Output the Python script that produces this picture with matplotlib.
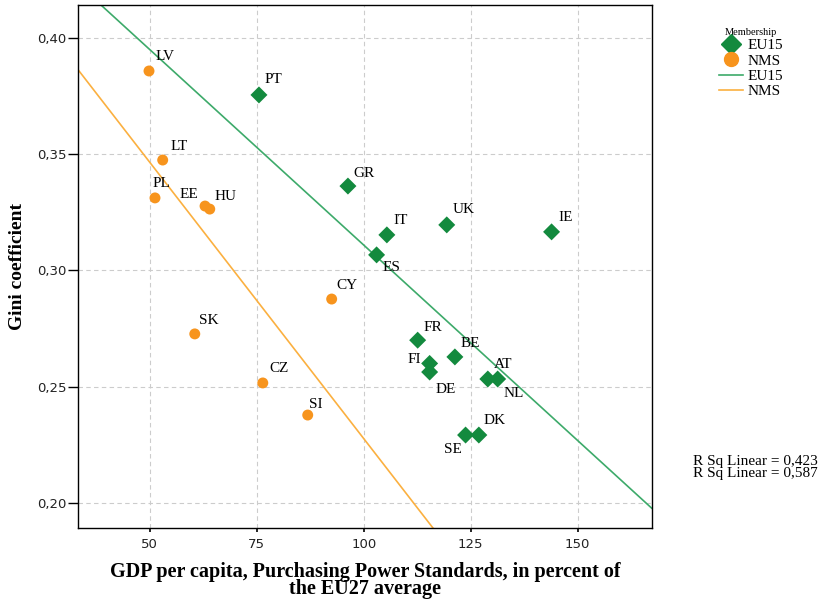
import numpy as np
import matplotlib.pyplot as plt
from matplotlib.lines import Line2D

# EU15 countries: GDP per capita (PPS, EU27 = 100) and Gini
eu15_names = ["PT", "GR", "IT", "UK", "IE", "ES", "FR", "BE", "FI", "DE", "AT", "NL", "DK", "SE"]
eu15_gdp = [75.5, 96.3, 105.4, 119.4, 143.9, 103.0, 112.6, 121.3, 115.4, 115.4, 129.0, 131.3, 126.9, 123.8]
eu15_gini = [0.3755, 0.3363, 0.3153, 0.3196, 0.3166, 0.3067, 0.2700, 0.2628, 0.2600, 0.2563, 0.2533, 0.2533, 0.2292, 0.2292]

# new member states
nms_names = ["LV", "LT", "PL", "EE", "HU", "CY", "SK", "CZ", "SI"]
nms_gdp = [49.8, 53.0, 51.2, 62.9, 64.0, 92.5, 60.5, 76.4, 86.9]
nms_gini = [0.3858, 0.3475, 0.3312, 0.3277, 0.3264, 0.2877, 0.2727, 0.2516, 0.2378]

r2_labels = ["R Sq Linear = 0,423", "R Sq Linear = 0,587"]

# label offsets in pixels (dx, dy)
eu15_off = [(14, 15), (16, 13), (14, 14), (17, 15), (14, 14), (15, -13), (15, 13), (15, 13),
            (-15, 4), (16, -17), (15, 15), (16, -14), (16, 15), (-13, -14)]
nms_off = [(16, 14), (16, 14), (6, 14), (-16, 12), (16, 13), (15, 14), (14, 13), (16, 14), (8, 11)]

GREEN = "#138a3e"
ORANGE = "#f7941d"
GREEN_LINE = "#3daa6a"
ORANGE_LINE = "#fbb040"

plt.rcParams['font.family'] = ['Liberation Serif', 'DejaVu Serif']

fig = plt.figure(figsize=(8.27, 5.99), dpi=100)
ax = fig.add_axes([0.0943, 0.1185, 0.6937, 0.8732])

xlim = (33.2, 167.3)
ax.set_xlim(*xlim)
ax.set_ylim(0.1892, 0.4142)

# fit lines
xs = np.array(xlim)
p_eu = np.polyfit(eu15_gdp, eu15_gini, 1)
p_nms = np.polyfit(nms_gdp, nms_gini, 1)
ax.plot(xs, np.polyval(p_eu, xs), color=GREEN_LINE, lw=1.2, zorder=2)
ax.plot(xs, np.polyval(p_nms, xs), color=ORANGE_LINE, lw=1.2, zorder=2)

ax.scatter(eu15_gdp, eu15_gini, marker="D", s=75, color=GREEN, edgecolors="none", zorder=3)
ax.scatter(nms_gdp, nms_gini, marker="o", s=62, color=ORANGE, edgecolors="none", zorder=3)

for names, xv, yv, offs in [(eu15_names, eu15_gdp, eu15_gini, eu15_off),
                            (nms_names, nms_gdp, nms_gini, nms_off)]:
    for n, x, y, o in zip(names, xv, yv, offs):
        ax.annotate(n, (x, y), xytext=o, textcoords="offset pixels",
                    ha="center", va="center", fontsize=11)

ax.set_xticks([50, 75, 100, 125, 150])
ax.set_yticks([0.20, 0.25, 0.30, 0.35, 0.40])
ax.set_yticklabels(["0,20", "0,25", "0,30", "0,35", "0,40"])
for lab in ax.get_xticklabels() + ax.get_yticklabels():
    lab.set_family("DejaVu Sans")
    lab.set_fontsize(9.5)
    lab.set_color("#222222")
ax.tick_params(axis="x", length=3, width=1.2, pad=4)
ax.tick_params(axis="y", length=7, width=1, pad=1)
ax.grid(True, color="#cccccc", linestyle=(0, (4, 3)), lw=0.8)
ax.set_axisbelow(True)
for sp in ax.spines.values():
    sp.set_linewidth(1.0)

ax.set_xlabel("GDP per capita, Purchasing Power Standards, in percent of\nthe EU27 average",
              fontsize=14.5, fontweight="bold", linespacing=0.78, labelpad=8)
ax.set_ylabel("Gini coefficient", fontsize=14, fontweight="bold", labelpad=8)

handles = [Line2D([], [], marker="D", color=GREEN, ls="none", markersize=10),
           Line2D([], [], marker="o", color=ORANGE, ls="none", markersize=10),
           Line2D([], [], color=GREEN_LINE, lw=1.2),
           Line2D([], [], color=ORANGE_LINE, lw=1.2)]
leg = fig.legend(handles, ["EU15", "NMS", "EU15", "NMS"], title="Membership",
                 loc="upper left", bbox_to_anchor=(0.862, 0.963), frameon=False,
                 fontsize=11, title_fontsize=7.5, handlelength=1.6, handletextpad=0.3,
                 labelspacing=0.1, borderaxespad=0)

fig.text(0.838, 0.229, r2_labels[0], fontsize=11, va="center")
fig.text(0.838, 0.209, r2_labels[1], fontsize=11, va="center")

fig.savefig("out.png", dpi=100)
